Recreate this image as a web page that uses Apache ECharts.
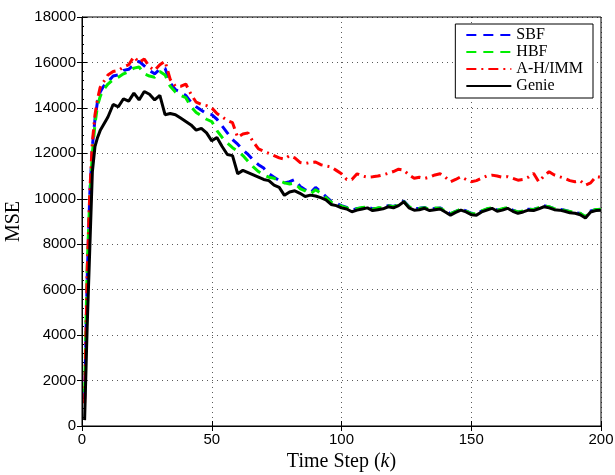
<!DOCTYPE html>
<html>
<head>
<meta charset="utf-8">
<script src="https://cdn.jsdelivr.net/npm/echarts@6/dist/echarts.min.js"></script>
<style>
  html, body { margin: 0; padding: 0; background: #fff; }
  #main { width: 615px; height: 475px; }
</style>
</head>
<body>
<div id="main"></div>
<script>
// time steps
var kSteps = [1, 2, 3, 4, 5, 6, 7, 8, 9, 10,
  12, 14, 16, 18, 20, 22, 24, 26, 28, 30,
  32, 34, 36, 38, 40, 42, 44, 46, 48, 50,
  52, 54, 56, 58, 60, 62, 64, 66, 68, 70,
  72, 74, 76, 78, 80, 82, 84, 86, 88, 90,
  92, 94, 96, 98,
  100, 102, 104, 106, 108, 110, 112, 114, 116, 118,
  120, 122, 124, 126, 128, 130, 132, 134, 136, 138,
  140, 142, 144, 146, 148, 150, 152, 154, 156, 158,
  160, 162, 164, 166, 168, 170, 172, 174, 176, 178,
  180, 182, 184, 186, 188, 190, 192, 194, 196, 198,
  200];

var sbf = [1200, 6500, 10200, 12300, 13500, 14300, 14700, 14900, 15050, 15150,
  15400, 15450, 15650, 15700, 15900, 16050, 15850, 15650, 15500, 15700,
  15750, 15100, 14800, 14700, 14550, 14250, 14050, 13900, 13750, 13700,
  13500, 13200, 12900, 12600, 12400, 12150, 11950, 11700, 11500, 11350,
  11100, 10950, 10800, 10700, 10750, 10850, 10550, 10400, 10250, 10500,
  10300, 10100, 9900, 9800,
  9700, 9620, 9500, 9570, 9600, 9650, 9560, 9580, 9620, 9700,
  9660, 9740, 9900, 9660, 9560, 9580, 9620, 9540, 9570, 9600,
  9480, 9340, 9450, 9540, 9470, 9360, 9330, 9460, 9540, 9610,
  9500, 9540, 9620, 9500, 9410, 9470, 9540, 9530, 9600, 9690,
  9640, 9570, 9540, 9500, 9430, 9400, 9350, 9200, 9460, 9520,
  9540];

var hbf = [1500, 7000, 10100, 12000, 13300, 14100, 14500, 14750, 14900, 15050,
  15250, 15350, 15500, 15600, 15750, 15800, 15500, 15400, 15350, 15600,
  15450, 14950, 14700, 14550, 14450, 14050, 13800, 13650, 13500, 13400,
  13000, 12700, 12450, 12250, 12100, 11900, 11650, 11400, 11200, 11050,
  10950, 10900, 10800, 10700, 10650, 10700, 10450, 10350, 10200, 10400,
  10250, 10050, 9850, 9750,
  9680, 9600, 9520, 9560, 9620, 9640, 9540, 9600, 9610, 9690,
  9650, 9720, 9880, 9640, 9580, 9570, 9610, 9530, 9590, 9580,
  9470, 9350, 9440, 9560, 9460, 9350, 9340, 9470, 9560, 9600,
  9490, 9560, 9610, 9490, 9420, 9460, 9550, 9520, 9610, 9680,
  9650, 9560, 9550, 9490, 9440, 9390, 9360, 9210, 9450, 9530,
  9530];

var ahImm = [1000, 6800, 10300, 12500, 13700, 14400, 14900, 15100, 15250, 15450,
  15600, 15650, 15800, 15900, 16250, 16000, 16150, 15800, 15650, 15900,
  16050, 15250, 14950, 14950, 15050, 14600, 14250, 14150, 14100, 14000,
  13750, 13600, 13450, 13350, 12700, 12850, 12900, 12500, 12200, 12100,
  12000, 11900, 11800, 11750, 11900, 11800, 11600, 11550, 11600, 11620,
  11500, 11450, 11400, 11250,
  11100, 10850, 10850, 11100, 11000, 10950, 10970, 11000, 11050, 11120,
  11200, 11300, 11260, 11050, 10900, 10950, 10900, 10950, 11050, 11100,
  10950, 10750, 10850, 10970, 10850, 10750, 10800, 10900, 11000, 11040,
  11000, 10950, 10970, 10900, 10820, 10850, 10950, 11120, 10750, 11000,
  11190, 11050, 10970, 10900, 10800, 10750, 10800, 10600, 10700, 10970,
  10950];

var genie = [260, 4400, 7800, 11200, 12300, 12700, 13000, 13200, 13400, 13600,
  14150, 14050, 14400, 14300, 14650, 14350, 14720, 14600, 14350, 14550,
  13700, 13750, 13700, 13550, 13400, 13250, 13020, 13100, 12900, 12550,
  12700, 12300, 11950, 11900, 11100, 11250, 11150, 11050, 10950, 10850,
  10800, 10600, 10500, 10150, 10300, 10350, 10240, 10100, 10160, 10120,
  10050, 9950, 9750, 9700,
  9600, 9550, 9430, 9500, 9550, 9600, 9480, 9520, 9560, 9650,
  9600, 9700, 9870, 9600, 9500, 9520, 9580, 9480, 9520, 9550,
  9420, 9280, 9400, 9500, 9420, 9300, 9280, 9420, 9500, 9580,
  9450, 9500, 9580, 9450, 9360, 9420, 9500, 9480, 9560, 9650,
  9600, 9520, 9500, 9450, 9380, 9360, 9300, 9150, 9420, 9480,
  9500];

var seriesNames = ['SBF', 'HBF', 'A-H/IMM', 'Genie'];

function pairs(vals) {
  var list = [];
  for (var i = 0; i < kSteps.length; i++) {
    list.push([kSteps[i], vals[i]]);
  }
  return list;
}

var tickFont = {
  fontFamily: 'Liberation Sans', fontSize: 15, color: '#000',
  formatter: function (v) { return String(v); }
};
var gridDots = { show: true, lineStyle: { color: '#000', width: 1, type: [1, 4], opacity: 0.65 } };

var myChart = echarts.init(document.getElementById('main'), null, { renderer: 'canvas' });
var option = {
  animation: false,
  backgroundColor: '#fff',
  grid: {
    left: 82, right: 14, top: 17, bottom: 49,
    outerBoundsMode: 'none',
    containLabel: false,
    show: true, borderColor: '#000', borderWidth: 1
  },
  legend: {
    data: seriesNames,
    orient: 'vertical',
    right: 22,
    top: 24,
    itemWidth: 45,
    itemHeight: 10,
    itemGap: 1,
    padding: [3, 10, 4, 10],
    backgroundColor: '#fff',
    borderColor: '#000',
    borderWidth: 1,
    borderRadius: 0,
    itemStyle: { opacity: 0 },
    textStyle: { fontFamily: 'Liberation Serif', fontSize: 16, height: 14, lineHeight: 14, color: '#000' }
  },
  xAxis: [{
    type: 'value',
    min: 0, max: 200, interval: 50,
    name: 'Time Step ({i|k})',
    nameLocation: 'middle',
    nameGap: 25,
    nameTextStyle: {
      fontFamily: 'Liberation Serif', fontSize: 20, color: '#000',
      rich: { i: { fontFamily: 'Liberation Serif', fontSize: 20, fontStyle: 'italic', color: '#000' } }
    },
    axisLine: { lineStyle: { color: '#000' } },
    axisTick: { inside: true, length: 5, lineStyle: { color: '#000' } },
    axisLabel: Object.assign({ margin: 6 }, tickFont),
    splitLine: gridDots
  }, {
    type: 'value', position: 'top',
    min: 0, max: 200, interval: 50,
    axisLine: { lineStyle: { color: '#000' } },
    axisTick: { inside: true, length: 5, lineStyle: { color: '#000' } },
    axisLabel: { show: false },
    splitLine: { show: false }
  }],
  yAxis: [{
    type: 'value',
    min: 0, max: 18000, interval: 2000,
    name: 'MSE',
    nameLocation: 'middle',
    nameGap: 55,
    nameTextStyle: { fontFamily: 'Liberation Serif', fontSize: 20, color: '#000' },
    axisLine: { show: true, lineStyle: { color: '#000' } },
    axisTick: { inside: true, length: 5, lineStyle: { color: '#000' } },
    minorTick: { show: true, splitNumber: 5, length: 2, lineStyle: { color: '#000' } },
    axisLabel: Object.assign({ margin: 6 }, tickFont),
    splitLine: gridDots
  }, {
    type: 'value', position: 'right',
    min: 0, max: 18000, interval: 2000,
    axisLine: { show: true, lineStyle: { color: '#000' } },
    axisTick: { inside: true, length: 5, lineStyle: { color: '#000' } },
    axisLabel: { show: false },
    splitLine: { show: false }
  }],
  series: [{
    name: 'SBF', type: 'line', symbol: 'none', data: pairs(sbf),
    itemStyle: { color: '#0000ff' },
    lineStyle: { color: '#0000ff', width: 3, type: [10, 7] }
  }, {
    name: 'HBF', type: 'line', symbol: 'none', data: pairs(hbf),
    itemStyle: { color: '#00ee00' },
    lineStyle: { color: '#00ee00', width: 3, type: [10, 7] }
  }, {
    name: 'A-H/IMM', type: 'line', symbol: 'none', data: pairs(ahImm),
    itemStyle: { color: '#ff0000' },
    lineStyle: { color: '#ff0000', width: 3, type: [10, 5, 2, 5] }
  }, {
    name: 'Genie', type: 'line', symbol: 'none', data: pairs(genie),
    itemStyle: { color: '#000' },
    lineStyle: { color: '#000', width: 3, type: 'solid' }
  }]
};
myChart.setOption(option);
</script>
</body>
</html>
